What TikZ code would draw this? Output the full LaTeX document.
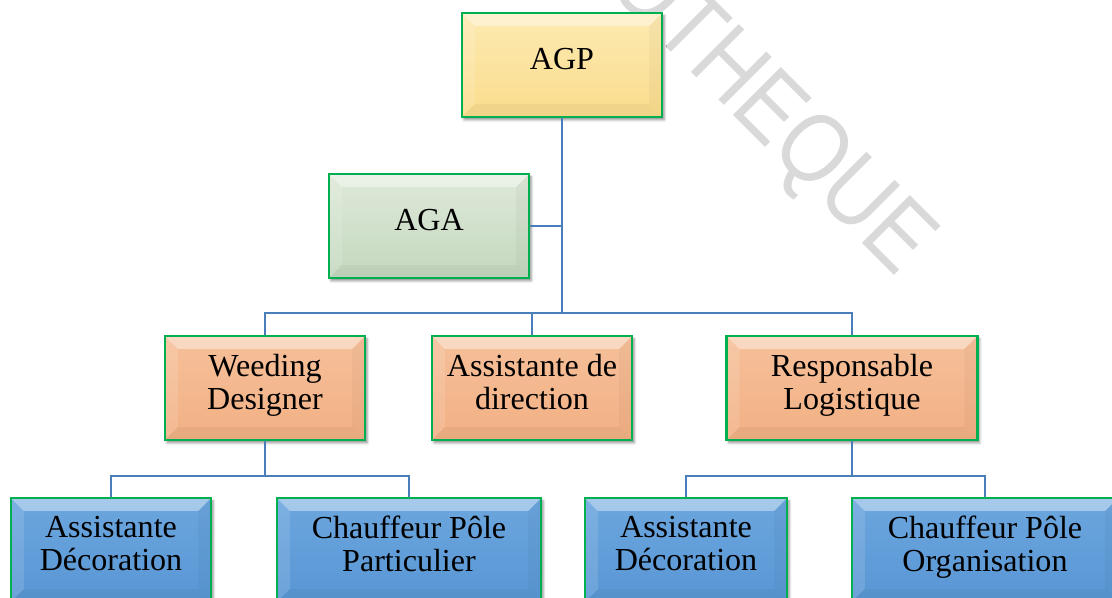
\documentclass[tikz,border=0pt]{standalone}
\usepackage{fontspec}
\setmainfont{Liberation Serif}
\newfontfamily\wmfont{Liberation Sans}
\usepackage{tikz}
\usetikzlibrary{shadows.blur}

\definecolor{boxline}{RGB}{0,176,80}
\definecolor{linkblue}{RGB}{74,126,187}
\definecolor{wmgray}{RGB}{217,217,217}

\begin{document}
\begin{tikzpicture}[x=0.025cm,y=-0.025cm,
  bevel/.style={path picture={
    \fill[white, opacity=0.4] (path picture bounding box.north west) -- (path picture bounding box.north east)
      -- ([shift={(-13,13)}]path picture bounding box.north east) -- ([shift={(13,13)}]path picture bounding box.north west) -- cycle;
    \fill[white, opacity=0.12] (path picture bounding box.north west) -- ([shift={(13,13)}]path picture bounding box.north west)
      -- ([shift={(13,-13)}]path picture bounding box.south west) -- (path picture bounding box.south west) -- cycle;
    \fill[black, opacity=0.03] (path picture bounding box.north east) -- ([shift={(-13,13)}]path picture bounding box.north east)
      -- ([shift={(-13,-13)}]path picture bounding box.south east) -- (path picture bounding box.south east) -- cycle;
    \fill[black, opacity=0.04] (path picture bounding box.south west) -- (path picture bounding box.south east)
      -- ([shift={(-13,-13)}]path picture bounding box.south east) -- ([shift={(13,-13)}]path picture bounding box.south west) -- cycle;}},
  post/.style={draw=boxline, line width=1.6pt, minimum height=2.6cm,
    align=center, inner sep=2pt, text depth=9pt, bevel,
    font=\fontsize{22.8}{23.6}\selectfont,
    blur shadow={shadow xshift=1.5pt, shadow yshift=-2pt, shadow blur steps=4, shadow opacity=45}},
  topbox/.style={post, minimum width=5cm, top color={rgb,255:red,253;green,234;blue,178}, bottom color={rgb,255:red,250;green,220;blue,140}},
  sidebox/.style={post, minimum width=5cm, top color={rgb,255:red,222;green,233;blue,217}, bottom color={rgb,255:red,196;green,216;blue,190}},
  midbox/.style={post, top color={rgb,255:red,246;green,192;blue,154}, bottom color={rgb,255:red,242;green,176;blue,132}},
  lowbox/.style={post, top color={rgb,255:red,108;green,166;blue,222}, bottom color={rgb,255:red,88;green,150;blue,212}},
  link/.style={draw=linkblue, line width=2.1pt}]

\clip (0,0) rectangle (1112,598);
\useasboundingbox (0,0) rectangle (1112,598);

% watermark
\node[wmgray, font=\wmfont\fontsize{70}{70}\selectfont, rotate=-45, xscale=0.85, transform shape] (wm) at (768,114) {OTHEQUE};

% boxes
\node[topbox] (agp) at (562,65) {AGP};
\node[sidebox] (aga) at (429,226) {AGA};

\node[midbox, minimum width=5cm] (wd) at (265,388) {Weeding\\Designer};
\node[midbox, minimum width=5cm] (ad) at (532,388) {Assistante de\\direction};
\node[midbox, minimum width=6.27cm] (rl) at (852,388) {Responsable\\Logistique};

\node[lowbox, minimum width=5cm] (dec1) at (111,550) {Assistante\\Décoration};
\node[lowbox, minimum width=6.6cm] (cpp) at (409,550) {Chauffeur Pôle\\Particulier};
\node[lowbox, minimum width=5.05cm] (dec2) at (686,550) {Assistante\\Décoration};
\node[lowbox, minimum width=6.65cm] (cpo) at (985,550) {Chauffeur Pôle\\Organisation};

% connectors
\coordinate (bus1) at (562,313);
\coordinate (bus2) at (265,476);
\coordinate (bus3) at (852,476);

\draw[link] (agp.south) -- (bus1);
\draw[link] (aga.east) -- (aga.east -| agp.south);
\draw[link] (wd.north) |- (bus1) -| (rl.north);
\draw[link] (ad.north) -- (ad.north |- bus1);

\draw[link] (wd.south) -- (bus2);
\draw[link] (dec1.north) |- (bus2) -| (cpp.north);
\draw[link] (rl.south) -- (bus3);
\draw[link] (dec2.north) |- (bus3) -| (cpo.north);

\end{tikzpicture}
\end{document}
